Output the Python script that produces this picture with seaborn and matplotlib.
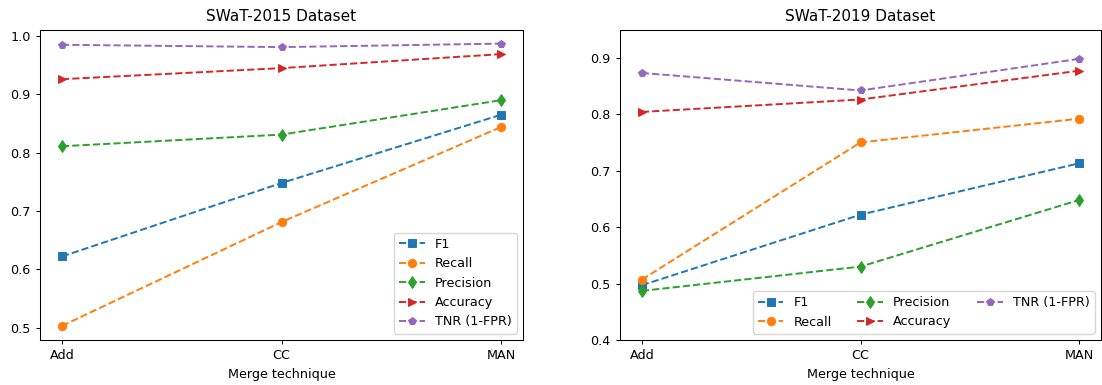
import matplotlib
matplotlib.use("Agg")
import matplotlib.pyplot as plt
import seaborn as sns
import pandas as pd

techniques = ["Add", "CC", "MAN"]
metrics = ["F1", "Recall", "Precision", "Accuracy", "TNR (1-FPR)"]

# SWaT-2015
f1_2015 = [0.622, 0.748, 0.865]
recall_2015 = [0.503, 0.681, 0.844]
precision_2015 = [0.811, 0.831, 0.890]
accuracy_2015 = [0.926, 0.945, 0.969]
tnr_2015 = [0.985, 0.981, 0.987]

# SWaT-2019
f1_2019 = [0.497, 0.622, 0.713]
recall_2019 = [0.507, 0.750, 0.792]
precision_2019 = [0.487, 0.530, 0.648]
accuracy_2019 = [0.804, 0.826, 0.877]
tnr_2019 = [0.873, 0.842, 0.898]

colors = ["#1f77b4", "#ff7f0e", "#2ca02c", "#d62728", "#9467bd"]
markers = ["s", "o", "d", ">", "p"]

fs = 9.2
plt.rcParams.update({
    "font.size": fs,
    "xtick.labelsize": fs,
    "ytick.labelsize": fs,
    "axes.labelsize": fs,
    "axes.titlesize": 11,
    "legend.fontsize": fs,
    "axes.linewidth": 0.75,
    "xtick.major.width": 0.75,
    "ytick.major.width": 0.75,
    "xtick.major.size": 3.2,
    "ytick.major.size": 3.2,
})

fig = plt.figure(figsize=(11.02, 3.85), dpi=100)
ax1 = fig.add_axes([40 / 1102, 1 - 340 / 385, 483 / 1102, 310.5 / 385])
ax2 = fig.add_axes([620 / 1102, 1 - 340 / 385, 481 / 1102, 310.5 / 385])

def draw(ax, series, title):
    for name, vals, c, m in zip(metrics, series, colors, markers):
        df = pd.DataFrame({"Merge technique": techniques, "value": vals})
        sns.lineplot(data=df, x="Merge technique", y="value", ax=ax, color=c,
                     marker=m, linestyle="--", label=name, markersize=6,
                     linewidth=1.4, markeredgecolor=c, markeredgewidth=0.7,
                     sort=False)
    ax.set_title(title)
    ax.set_ylabel("")
    ax.set_xlabel("Merge technique")

draw(ax1, [f1_2015, recall_2015, precision_2015, accuracy_2015, tnr_2015], "SWaT-2015 Dataset")
draw(ax2, [f1_2019, recall_2019, precision_2019, accuracy_2019, tnr_2019], "SWaT-2019 Dataset")

ax1.legend(loc="lower right")
ax2.set_ylim(0.4, 0.95)
ax2.legend(loc="lower right", ncol=3)

fig.savefig("out.png", dpi=100)
